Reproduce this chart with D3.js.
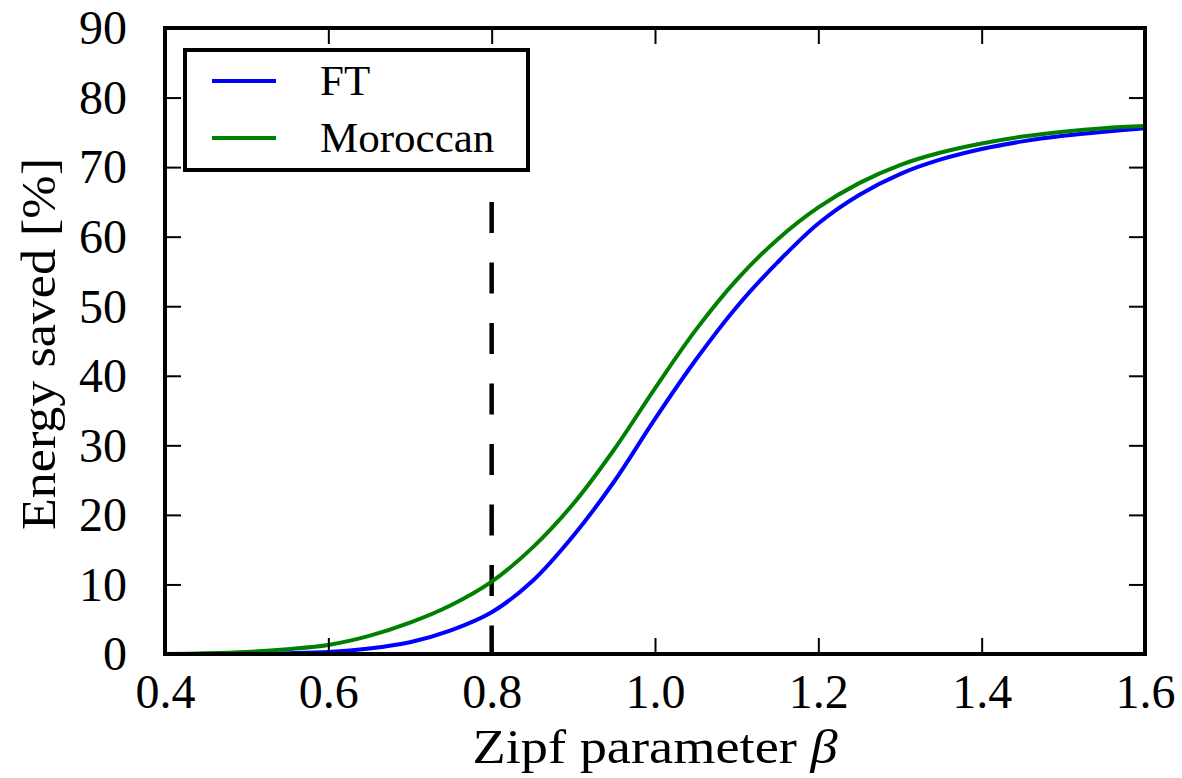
<!DOCTYPE html>
<html>
<head>
<meta charset="utf-8">
<script src="https://cdn.jsdelivr.net/npm/d3@7"></script>
<style>
  html, body { margin: 0; padding: 0; background: #fff; }
  svg { display: block; }
  text { font-family: "Liberation Serif", "DejaVu Serif", serif; fill: #000; }
</style>
</head>
<body>
<svg id="chart" width="1182" height="778"></svg>
<script>
// ---- data ----
const beta = [0.40,0.45,0.50,0.55,0.60,0.65,0.70,0.75,0.80,0.85,0.90,0.95,1.00,1.05,1.10,1.15,1.20,1.25,1.30,1.35,1.40,1.45,1.50,1.55,1.60];
const ftValues = [0,0.01,0.04,0.12,0.3,0.8,1.7,3.4,6.0,10.5,17.0,24.8,33.8,42.3,49.9,56.3,61.9,66.0,69.0,71.1,72.6,73.7,74.5,75.1,75.6];
const moroccanValues = [0,0.1,0.3,0.7,1.3,2.6,4.5,7.0,10.4,15.3,21.6,29.4,38.2,46.6,53.8,59.6,64.2,67.7,70.3,72.1,73.4,74.4,75.1,75.6,75.9];
const seriesNames = ["FT", "Moroccan"];
const xTicks = [0.4,0.6,0.8,1.0,1.2,1.4,1.6];
const yTicks = [0,10,20,30,40,50,60,70,80,90];
const markerBeta = 0.8;
const markerTop = 65;

// ---- layout ----
const svg = d3.select("#chart");
const L = 165, R = 1145, T = 28, B = 654;
const x = d3.scaleLinear().domain([0.4, 1.6]).range([L, R]);
const y = d3.scaleLinear().domain([0, 90]).range([B, T]);
const colors = ["#0000ff", "#008000"];
const FS = 48;

// ---- lines ----
const line = d3.line().x(d => x(d[0])).y(d => y(d[1])).curve(d3.curveCatmullRom.alpha(0.5));
const plot = svg.append("g");
svg.append("clipPath").attr("id", "clip").append("rect")
  .attr("x", L).attr("y", T).attr("width", R - L).attr("height", B - T);

// dashed marker
plot.append("line")
  .attr("x1", x(markerBeta)).attr("x2", x(markerBeta))
  .attr("y1", y(markerTop)).attr("y2", y(0))
  .attr("stroke", "#000").attr("stroke-width", 4.5)
  .attr("stroke-dasharray", "31,29.5");

[ftValues, moroccanValues].forEach((vals, i) => {
  plot.append("path")
    .datum(beta.map((b, j) => [b, vals[j]]))
    .attr("d", line)
    .attr("fill", "none")
    .attr("stroke", colors[i])
    .attr("stroke-width", 4)
    .attr("clip-path", "url(#clip)");
});

// ---- axes (inward ticks, all four sides) ----
const tickLen = 16;
const axB = svg.append("g").attr("transform", `translate(0,${B})`)
  .call(d3.axisBottom(x).tickValues(xTicks).tickSize(-tickLen).tickPadding(tickLen + 20).tickFormat(d3.format(".1f")));
const axT = svg.append("g").attr("transform", `translate(0,${T})`)
  .call(d3.axisTop(x).tickValues(xTicks).tickSize(-tickLen).tickFormat(""));
const axL = svg.append("g").attr("transform", `translate(${L},0)`)
  .call(d3.axisLeft(y).tickValues(yTicks).tickSize(-tickLen).tickPadding(tickLen + 22).tickFormat(d3.format("d")));
const axR = svg.append("g").attr("transform", `translate(${R},0)`)
  .call(d3.axisRight(y).tickValues(yTicks).tickSize(-tickLen).tickFormat(""));

[axB, axT, axL, axR].forEach(a => {
  a.select(".domain").remove();
  a.selectAll(".tick line").attr("stroke", "#000").attr("stroke-width", 2);
  a.selectAll("text").attr("font-family", "Liberation Serif").attr("font-size", FS).attr("fill", "#000");
});
axB.selectAll(".tick text").attr("dy", null).attr("y", 54);
axL.selectAll(".tick text").attr("dy", "0.33em");

// frame
svg.append("rect").attr("x", L).attr("y", T).attr("width", R - L).attr("height", B - T)
  .attr("fill", "none").attr("stroke", "#000").attr("stroke-width", 4);

// ---- axis labels ----
const xl = svg.append("text").attr("x", 655).attr("y", 763).attr("text-anchor", "middle")
  .attr("font-size", FS).attr("textLength", 365).attr("lengthAdjust", "spacingAndGlyphs");
xl.append("tspan").text("Zipf parameter ");
xl.append("tspan").attr("font-style", "italic").text("β");

svg.append("text").attr("transform", "translate(55,344) rotate(-90)").attr("text-anchor", "middle")
  .attr("font-size", FS).attr("textLength", 372).attr("lengthAdjust", "spacingAndGlyphs")
  .text("Energy saved [%]");

// ---- legend ----
const lg = svg.append("g");
lg.append("rect").attr("x", 185).attr("y", 50).attr("width", 343).attr("height", 120)
  .attr("fill", "#fff").attr("stroke", "#000").attr("stroke-width", 4);
const legY = [81, 138];
seriesNames.forEach((n, i) => {
  lg.append("line").attr("x1", 212).attr("x2", 276).attr("y1", legY[i]).attr("y2", legY[i])
    .attr("stroke", colors[i]).attr("stroke-width", 4);
  lg.append("text").attr("x", 320).attr("y", legY[i] + 14).attr("font-size", 43).text(n);
});
</script>
</body>
</html>
